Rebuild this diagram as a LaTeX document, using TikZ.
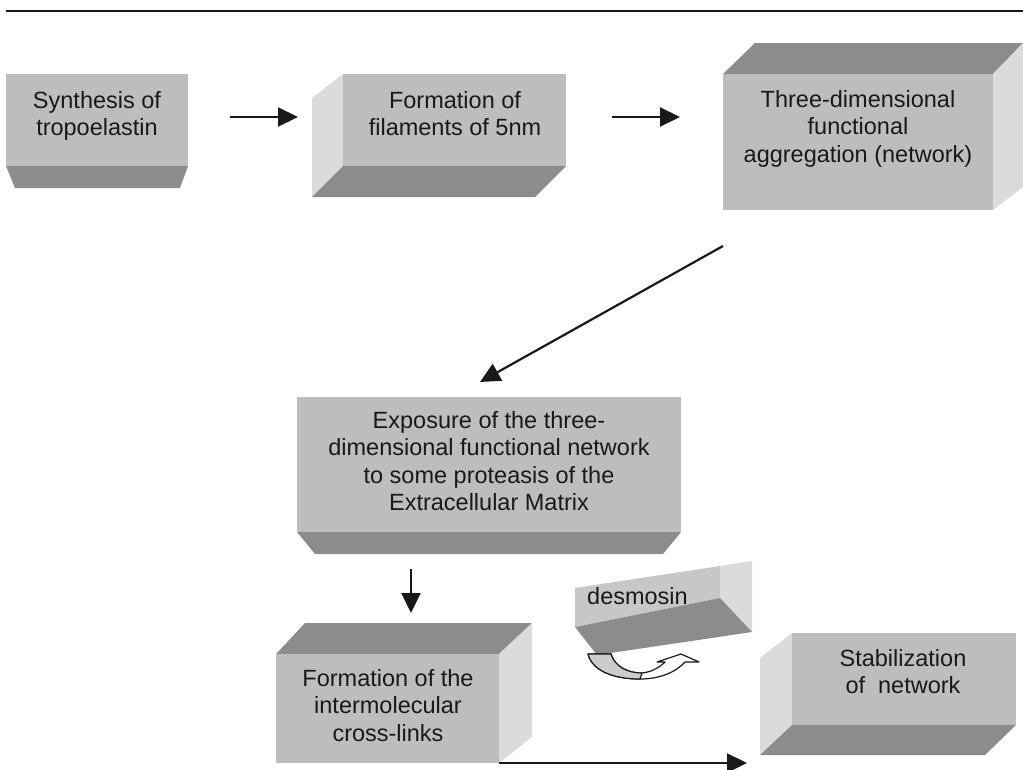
\documentclass[tikz,border=0pt]{standalone}
\usepackage{fontspec}
\setmainfont{Liberation Sans}
\usetikzlibrary{arrows.meta}
\definecolor{frontc}{gray}{0.74}
\definecolor{darkc}{gray}{0.55}
\definecolor{sidec}{gray}{0.86}
\definecolor{desfront}{gray}{0.78}
\definecolor{bandc}{gray}{0.80}
\definecolor{txtc}{gray}{0.10}
\newcommand{\boxfont}{\fontsize{23.5}{27.5}\selectfont}
\tikzset{
  front/.style={fill=frontc, draw=none, inner sep=0pt, outer sep=0pt},
  darkface/.style={fill=darkc},
  sideface/.style={fill=sidec},
  lbl/.style={align=center, inner sep=0pt, font=\boxfont, text=txtc},
  arr/.style={line width=2.2pt, draw=txtc, -{Triangle[length=20pt,width=19pt]}},
}
\begin{document}
\begin{tikzpicture}[x=1pt, y=-1pt]
\useasboundingbox (0,0) rectangle (1023,769);
% top rule
\draw[line width=2.4pt, txtc] (6,11) -- (1023,11);

% Box 1
\fill[darkface] (6,166) -- (188,166) -- (180,188) -- (15,188) -- cycle;
\node[front, minimum width=182pt, minimum height=92pt] (b1) at (97,120) {};
\node[lbl] (t1) at (97,116.25) {\strut Synthesis of\\\strut tropoelastin};

% Box 2
\fill[sideface] (343,74) -- (312,98) -- (312,197) -- (343,166) -- cycle;
\fill[darkface] (343,166) -- (566,166) -- (535,197) -- (312,197) -- cycle;
\node[front, minimum width=223pt, minimum height=92pt] (b2) at (454.5,120) {};
\node[lbl] (t2) at (455,116.25) {\strut Formation of\\\strut filaments of 5nm};

% Box 3
\fill[darkface] (723,74) -- (755,43) -- (1023,43) -- (993,74) -- cycle;
\fill[sideface] (993,74) -- (1023,43) -- (1023,187) -- (993,210) -- cycle;
\node[front, minimum width=270pt, minimum height=136pt] (b3) at (858,142) {};
\node[lbl] (t3) at (858,129) {\strut Three-dimensional\\\strut functional\\\strut aggregation (network)};

% Box 4
\fill[darkface] (297,532) -- (681,532) -- (663,554) -- (315,554) -- cycle;
\node[front, minimum width=384pt, minimum height=135pt] (b4) at (489,464.5) {};
\node[lbl] (t4) at (489,463.75) {\strut Exposure of the three-\\\strut dimensional functional network\\\strut to some proteasis of the\\\strut Extracellular Matrix};

% Box 5
\fill[darkface] (276,654) -- (305,623) -- (532,623) -- (499,654) -- cycle;
\fill[sideface] (499,654) -- (532,623) -- (532,737) -- (499,763) -- cycle;
\node[front, minimum width=223pt, minimum height=109pt] (b5) at (387.5,708.5) {};
\node[lbl] (t5) at (388,708) {\strut Formation of the\\\strut intermolecular\\\strut cross-links};

% Box 6
\fill[sideface] (792,633) -- (760,658) -- (760,755) -- (792,725) -- cycle;
\fill[darkface] (792,725) -- (1016,725) -- (985,755) -- (760,755) -- cycle;
\node[front, minimum width=224pt, minimum height=92pt] (b6) at (904,679) {};
\node[lbl] (t6) at (903,674.25) {\strut Stabilization\\\strut of~ network};

% Desmosin tilted box
\fill[desfront] (575,588) -- (720,566) -- (720,598) -- (575,627) -- cycle;
\fill[sideface] (720,566) -- (752,561) -- (752,632) -- (720,598) -- cycle;
\fill[darkface] (575,627) -- (720,598) -- (752,632) -- (597,655) -- cycle;
\node[lbl, anchor=west] (des) at (587,596.5) {desmosin};

% curved arrow below desmosin
\filldraw[fill=white, draw=txtc, line width=1.2pt, line join=round]
  (588,654) -- (611,654) .. controls (615,667) and (628,673) .. (642,673)
  .. controls (652,672) and (660,667) .. (665,662) -- (657,662) -- (681,654) -- (699,662) -- (685,662)
  .. controls (676,672) and (660,679) .. (640,679)
  .. controls (612,679) and (592,670) .. (588,654) -- cycle;
\filldraw[fill=bandc, draw=txtc, line width=1.2pt, line join=round]
  (588,654) -- (611,654) .. controls (615,667) and (628,673) .. (642,673)
  -- (640,679) .. controls (612,679) and (592,670) .. (588,654) -- cycle;

% connectors
\coordinate (a1s) at (230,117);
\coordinate (a1e) at (298,117);
\coordinate (a2s) at (612,117);
\coordinate (a2e) at (680,117);
\coordinate (a3s) at (723,246);
\coordinate (a3e) at (480,382);
\coordinate (a4s) at (411,569);
\coordinate (a4e) at (411,613);
\coordinate (a5e) at (747,763);
\draw[arr] (a1s) -- (a1e);
\draw[arr] (a2s) -- (a2e);
\draw[arr] (a3s) -- (a3e);
\draw[arr] (a4s) -- (a4e);
\draw[arr] (b5.south east) -- (a5e);
\end{tikzpicture}
\end{document}
